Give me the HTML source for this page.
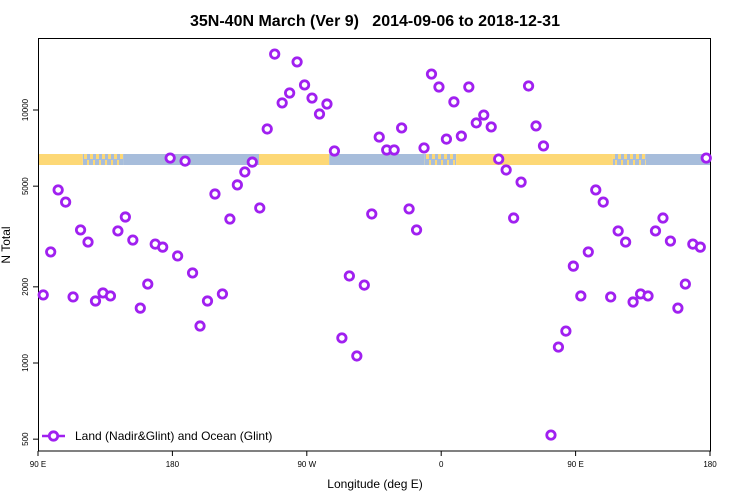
<!DOCTYPE html>
<html><head><meta charset="utf-8"><style>
body{margin:0;background:#fff}
svg{display:block;font-family:"Liberation Sans",sans-serif}
</style></head><body>
<svg id="chart" width="750" height="500" xmlns="http://www.w3.org/2000/svg">
<defs>
<pattern id="mix" width="6" height="11" patternUnits="userSpaceOnUse">
<rect width="6" height="11" fill="#a7bddb"/>
<rect x="0" y="0" width="3" height="5" fill="#fdd876"/>
<rect x="3" y="6" width="2" height="5" fill="#fdd876"/>
</pattern>
</defs>
<text x="375" y="26" text-anchor="middle" font-size="16" font-weight="bold" style="white-space:pre">35N-40N March (Ver 9)   2014-09-06 to 2018-12-31</text>
<g id="band"></g>
<rect x="38.5" y="38.5" width="672" height="412.5" fill="none" stroke="#000" stroke-width="1"/>
<g id="yaxis"></g>
<g id="xaxis"></g>
<g id="marks"></g>
<text x="375" y="488" text-anchor="middle" font-size="12">Longitude (deg E)</text>
<text transform="translate(10,245) rotate(-90)" text-anchor="middle" font-size="12">N Total</text>
<g>
<line x1="42" y1="436" x2="65" y2="436" stroke="#a020f0" stroke-width="2.5"/>
<circle cx="53.5" cy="436" r="4.2" fill="#fff" stroke="#a020f0" stroke-width="2.8"/>
<text x="75" y="440" font-size="12">Land (Nadir&amp;Glint) and Ocean (Glint)</text>
</g>
</svg>
<script>
const lons=[93.5,98.5,103.5,108.5,113.5,118.5,123.5,128.5,133.5,138.5,143.5,148.5,153.5,158.5,163.5,168.5,173.5,178.5,183.5,188.5,193.5,198.5,203.5,208.5,213.5,218.5,223.5,228.5,233.5,238.5,243.5,248.5,253.5,258.5,263.5,268.5,273.5,278.5,283.5,288.5,293.5,298.5,303.5,308.5,313.5,318.5,323.5,328.5,333.5,338.5,343.5,348.5,353.5,358.5,363.5,368.5,373.5,378.5,383.5,388.5,393.5,398.5,403.5,408.5,413.5,418.5,423.5,428.5,433.5,438.5,443.5,448.5,453.5,458.5,463.5,468.5,473.5,478.5,483.5,488.5,493.5,498.5,503.5,508.5,513.5,518.5,523.5,528.5,533.5,537.5];
const values=[1858,2748,4831,4325,1824,3357,3006,1758,1892,1841,3326,3776,3062,1648,2051,2951,2871,6457,2649,6281,2270,1400,1758,4656,1875,3707,5058,5689,6223,4100,8414,16634,10666,11675,15488,12560,11150,9640,10560,6887,1256,2208,1066,2032,3882,7816,6950,6950,8493,4064,3357,7079,13870,12330,7674,10766,7889,12330,8890,9550,8570,6397,5794,3741,5188,12445,8650,7211,519,1156,1337,2415,1841,2748,4831,4325,1824,3326,3006,1742,1875,1841,3326,3741,3034,1648,2051,2951,2871,6457];
const yTicks=[500,1000,2000,5000,10000];
const xTickLons=[90,180,270,360,450,540];
const xTickLabels=["90 E","180","90 W","0","90 E","180"];
const bandStarts=[90,120,147,238,285,349,370,475,497];
const bandEnds=[120,147,238,285,349,370,475,497,540];
const bandTypes=["land","mixed","ocean","land","ocean","mixed","land","mixed","ocean"];

const NS="http://www.w3.org/2000/svg";
function xs(l){return 38+(l-90)*672/450;}
function ys(v){return 110-(Math.log10(v)-4)*253;}
function mk(tag,attrs,parent){const e=document.createElementNS(NS,tag);for(const k in attrs)e.setAttribute(k,attrs[k]);parent.appendChild(e);return e;}
const band=document.getElementById('band');
const col={land:"#fdd876",ocean:"#a7bddb",mixed:"url(#mix)"};
bandStarts.forEach((s,i)=>{
 const r=mk('rect',{x:xs(s),y:154,width:xs(bandEnds[i])-xs(s),height:11,fill:col[bandTypes[i]]},band);
 
 
});
const ya=document.getElementById('yaxis');
yTicks.forEach(t=>{
 const y=ys(t);
 mk('line',{x1:33,x2:38.5,y1:y,y2:y,stroke:"#000"},ya);
 const tx=mk('text',{transform:`translate(28,${y}) rotate(-90)`,"text-anchor":"middle","font-size":"8"},ya);
 tx.textContent=t;
 
 
});
const xa=document.getElementById('xaxis');
xTickLons.forEach((l,i)=>{
 const x=xs(l);
 mk('line',{x1:x,x2:x,y1:451,y2:456,stroke:"#000"},xa);
 const tx=mk('text',{x:x,y:467,"text-anchor":"middle","font-size":"8"},xa);
 tx.textContent=xTickLabels[i];
 
 
});
const g=document.getElementById('marks');
lons.forEach((l,i)=>{
 const c=mk('circle',{cx:xs(l),cy:ys(values[i]),r:4.2,fill:"#fff",stroke:"#a020f0","stroke-width":2.8},g);
 
 
});
</script>
</body></html>
